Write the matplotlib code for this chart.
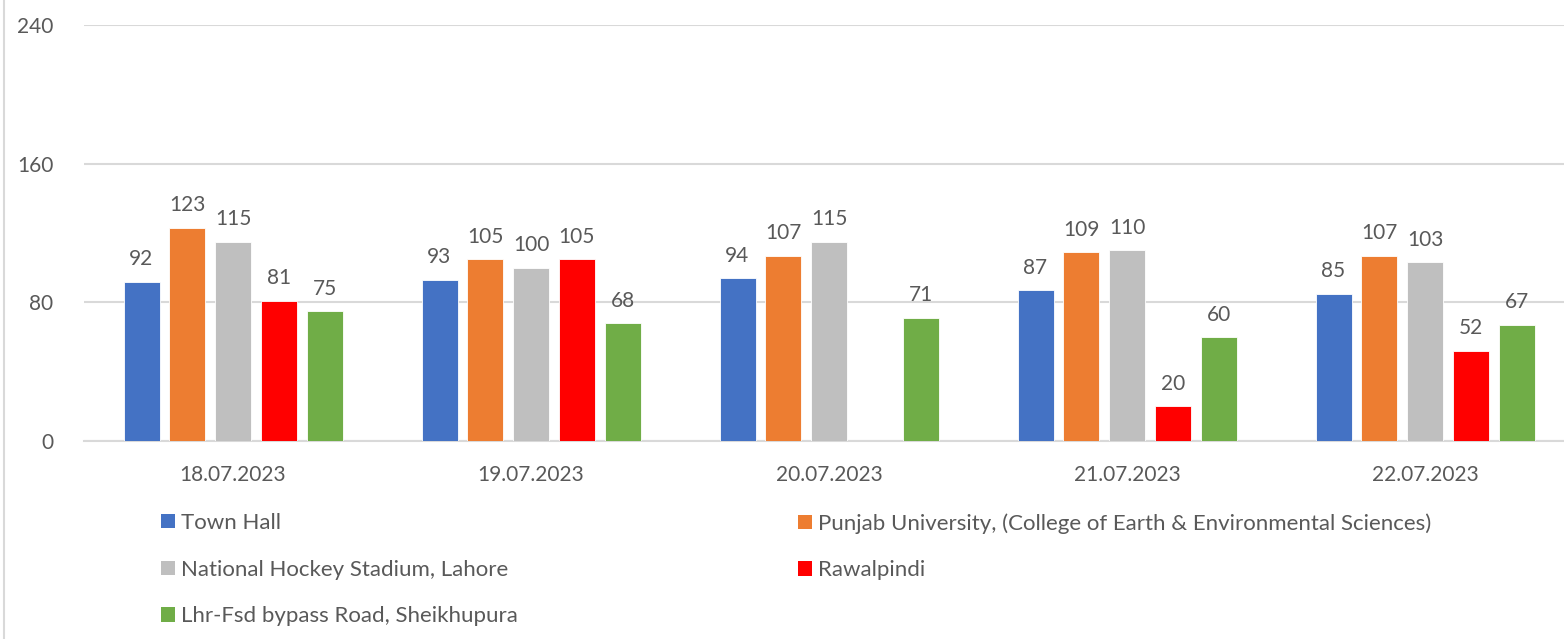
import matplotlib
matplotlib.use("Agg")
import matplotlib.pyplot as plt
import numpy as np
from matplotlib.patches import Patch
from matplotlib.lines import Line2D

dates = ["18.07.2023", "19.07.2023", "20.07.2023", "21.07.2023", "22.07.2023"]
series_names = [
    "Town Hall",
    "Punjab University, (College of Earth & Environmental Sciences)",
    "National Hockey Stadium, Lahore",
    "Rawalpindi",
    "Lhr-Fsd bypass Road, Sheikhupura",
]
town_hall = [92, 93, 94, 87, 85]
punjab_univ = [123, 105, 107, 109, 107]
hockey_stadium = [115, 100, 115, 110, 103]
rawalpindi = [81, 105, None, 20, 52]
lhr_fsd = [75, 68, 71, 60, 67]
yticks = [0, 80, 160, 240]

colors = ["#4472C4", "#ED7D31", "#BFBFBF", "#FF0000", "#70AD47"]
text_color = "#595959"
grid_color = "#D9D9D9"
FONT = "Lato"
FS = 15
LFS = 16

plt.rcParams["font.family"] = [FONT, "DejaVu Sans"]

fig = plt.figure(figsize=(15.64, 6.39), dpi=100)
ax = fig.add_axes([84 / 1564, (639 - 441) / 639, 1490 / 1564, 416 / 639])

all_series = [town_hall, punjab_univ, hockey_stadium, rawalpindi, lhr_fsd]
x = np.arange(len(dates))
step = 45.75 / 298
width = 36 / 298
handles = []
for i, (vals, name, c) in enumerate(zip(all_series, series_names, colors)):
    v = np.array([np.nan if a is None else a for a in vals], dtype=float)
    pos = x + (i - 2) * step
    ax.bar(pos, v, width=width, color=c, edgecolor="white", linewidth=0.6, zorder=3)
    for p, val in zip(pos, vals):
        if val is None:
            continue
        ax.annotate(f"{val}", (p, val), xytext=(0, 9), textcoords="offset points",
                    ha="center", va="bottom", fontsize=FS, color=text_color)
    handles.append(Patch(facecolor=c, edgecolor="none", label=name))

ax.set_xlim(-0.5, len(dates) - 0.5)
ax.set_ylim(0, 240)
ax.set_yticks(yticks)
ax.set_yticklabels([str(t) for t in yticks])
ax.set_xticks(x)
ax.set_xticklabels(dates)
ax.tick_params(axis="y", length=0, pad=22, labelsize=FS, labelcolor=text_color)
ax.tick_params(axis="x", length=0, pad=17, labelsize=FS, labelcolor=text_color)
ax.yaxis.grid(True, color=grid_color, linewidth=1.5, zorder=0)
ax.set_axisbelow(True)
for s in ["top", "right", "left"]:
    ax.spines[s].set_visible(False)
ax.spines["bottom"].set_color(grid_color)
ax.spines["bottom"].set_linewidth(1.5)

common = dict(frameon=False, fontsize=LFS, handlelength=0.62, handleheight=0.62,
              handletextpad=0.28, labelspacing=1.2, borderpad=0, borderaxespad=0,
              labelcolor=text_color, loc="upper left")
leg1 = fig.legend(handles=[handles[0], handles[2], handles[4]],
                  bbox_to_anchor=(161 / 1564, (639 - 513) / 639), **common)
leg2 = fig.legend(handles=[handles[1], handles[3]],
                  bbox_to_anchor=(798 / 1564, (639 - 513) / 639), **common)

fig.add_artist(Line2D([3.5 / 1564, 3.5 / 1564], [0, 1], color="#D9D9D9", linewidth=1.5,
                      transform=fig.transFigure))

fig.savefig("out.png", dpi=100, facecolor="white")
